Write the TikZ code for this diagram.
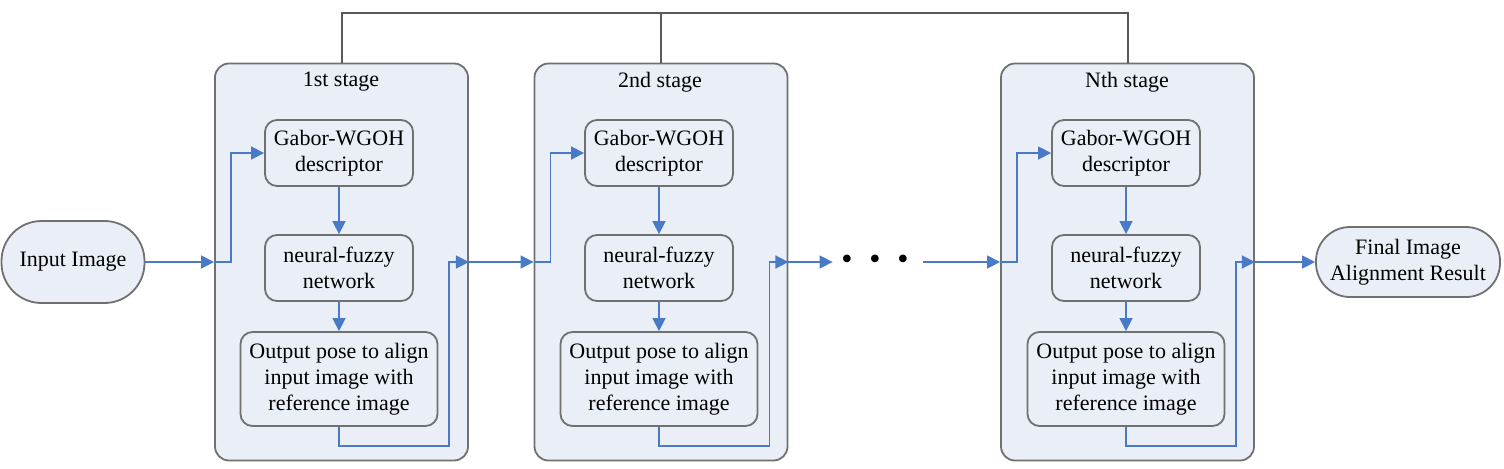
\documentclass[tikz,border=0pt]{standalone}
\usepackage{fontspec}
\setmainfont{Liberation Serif}
\usetikzlibrary{arrows.meta,positioning}
\definecolor{boxfill}{RGB}{233,238,247}
\definecolor{edgegray}{RGB}{112,112,112}
\definecolor{flowblue}{RGB}{72,122,200}

\begin{document}
\begin{tikzpicture}[x=0.5pt,y=0.5pt,font=\fontsize{11}{13}\selectfont,
box/.style={draw=edgegray,fill=boxfill,rounded corners=6pt,align=center,inner sep=2pt,line width=0.9pt},
stage/.style={box,rounded corners=7pt,minimum width=126.5pt,minimum height=198.5pt},
unit/.style={box,minimum width=74pt,minimum height=33pt},
pose/.style={box,minimum width=98.5pt,minimum height=47pt},
term/.style={box,rounded corners=20pt,minimum height=41pt},
arr/.style={-{Triangle[length=6.5pt,width=6.5pt]},color=flowblue,line width=0.75pt},
bus/.style={draw=black!65,line width=1pt}]
\useasboundingbox (0,0) rectangle (1504,468);
\node[term,minimum width=71.5pt] (in) at (73,206) {Input Image};
\node[stage] (s1) at (341.5,206) {};
\node[stage] (s2) at (661,206) {};
\node[stage] (sN) at (1127.5,206) {};
\node (l1) at (341,386) {1st stage};
\node (l2) at (660,386) {2nd stage};
\node (lN) at (1127,386) {Nth stage};
\node[unit] (g1) at (339,315) {Gabor-WGOH\\descriptor};
\node[unit] (n1) at (339,200) {neural-fuzzy\\network};
\node[pose] (o1) at (339,89) {Output pose to align\\input image with\\reference image};
\node[unit] (g2) at (659,315) {Gabor-WGOH\\descriptor};
\node[unit] (n2) at (659,200) {neural-fuzzy\\network};
\node[pose] (o2) at (659,89) {Output pose to align\\input image with\\reference image};
\node[unit] (gN) at (1126,315) {Gabor-WGOH\\descriptor};
\node[unit] (nN) at (1126,200) {neural-fuzzy\\network};
\node[pose] (oN) at (1126,89) {Output pose to align\\input image with\\reference image};
\node[inner sep=0pt,minimum width=42pt,font=\fontsize{16}{16}\selectfont] (dots) at (875,206) {\textbullet\hspace{8.4pt}\textbullet\hspace{8.4pt}\textbullet};
\node[term,rounded corners=17pt,minimum width=92pt,minimum height=35pt] (out) at (1408,206) {Final Image\\Alignment Result};
\coordinate (top) at (660,455);
\draw[bus] (s1.north) |- (top) -| (sN.north);
\draw[bus] (s2.north) -- (s2.north |- top);
\draw[arr] (in) -- (s1.west);
\draw[arr] (s1.west) -- ++(17,0) |- (g1.west);
\draw[arr] (g1) -- (n1); \draw[arr] (n1) -- (o1);
\draw[arr] (o1.south) -- ++(0,-19) -| ([xshift=-10pt]s1.east) -- (s1.east);
\draw[arr] (s1.east) -- (s2.west);
\draw[arr] (s2.west) -- ++(17,0) |- (g2.west);
\draw[arr] (g2) -- (n2); \draw[arr] (n2) -- (o2);
\draw[arr] (o2.south) -- ++(0,-19) -| ([xshift=-9.5pt]s2.east) -- (s2.east);
\draw[arr] (s2.east) -- (dots);
\draw[arr,shorten <=3pt] (dots) -- (sN.west);
\draw[arr] (sN.west) -- ++(17,0) |- (gN.west);
\draw[arr] (gN) -- (nN); \draw[arr] (nN) -- (oN);
\draw[arr] (oN.south) -- ++(0,-19) -| ([xshift=-9.5pt]sN.east) -- (sN.east);
\draw[arr] (sN.east) -- (out);
\end{tikzpicture}
\end{document}
